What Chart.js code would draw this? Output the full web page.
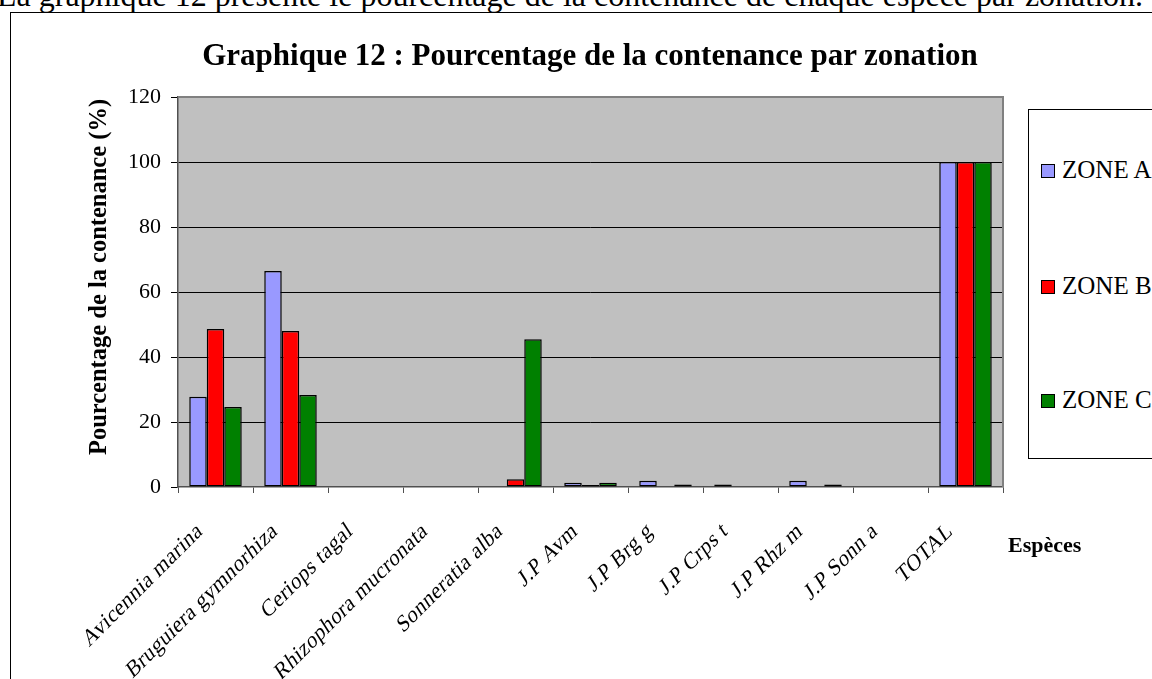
<!DOCTYPE html>
<html>
<head>
<meta charset="utf-8">
<script src="https://cdn.jsdelivr.net/npm/chart.js@4.4.1/dist/chart.umd.min.js"></script>
<style>
  html, body { margin:0; padding:0; background:#fff; }
  body { width:1152px; height:679px; overflow:hidden; position:relative; font-family:"Liberation Serif","Times New Roman",serif; color:#000; }
  #intro { position:absolute; left:-3px; top:-21px; font-size:32px; line-height:1; white-space:nowrap; }
  #frame { position:absolute; left:10px; top:12px; width:1200px; height:700px; border:1.5px solid #000; box-sizing:border-box; }
  #c { position:absolute; left:0; top:0; }
  #title { position:absolute; left:0; width:1180px; top:39px; text-align:center; font-weight:bold; font-size:31px; line-height:1; white-space:nowrap; }
  #ytitle { position:absolute; left:-102px; width:400px; top:265px; text-align:center; font-weight:bold; font-size:24.5px; line-height:24px; white-space:nowrap; transform:rotate(-90deg); transform-origin:200px 12px; }
  #xtitle { position:absolute; left:1008px; top:534px; font-weight:bold; font-size:22px; line-height:1; white-space:nowrap; }
  #legend { position:absolute; left:1028px; top:109px; width:200px; height:350px; border:1px solid #000; box-sizing:border-box; background:#fff; }
  .li { position:absolute; left:12px; white-space:nowrap; font-size:25px; line-height:1; }
  .sw { display:inline-block; width:12px; height:12px; border:1.5px solid #000; vertical-align:baseline; margin-right:7px; }
</style>
</head>
<body>
<div id="intro"></div>
<div id="frame"></div>
<canvas id="c" width="1152" height="679"></canvas>
<div id="title"></div>
<div id="ytitle"></div>
<div id="xtitle"></div>
<div id="legend"></div>
<script>
const introText = "La graphique 12 présente le pourcentage de la contenance de chaque espèce par zonation.";
const chartTitle = "Graphique 12 : Pourcentage de la contenance par zonation";
const yAxisTitle = "Pourcentage de la contenance (%)";
const xAxisTitle = "Espèces";
const categories = ["Avicennia marina", "Bruguiera gymnorhiza", "Ceriops tagal", "Rhizophora mucronata", "Sonneratia alba", "J.P Avm", "J.P Brg g", "J.P Crps t", "J.P Rhz m", "J.P Sonn a", "TOTAL"];
const seriesNames = ["ZONE A", "ZONE B", "ZONE C"];
const zoneA = [27.8, 66.5, 0, 0, 0, 1.3, 1.9, 0.8, 1.9, 0, 100];
const zoneB = [48.6, 48.0, 0, 0, 2.4, 0.6, 0, 0, 0, 0, 100];
const zoneC = [24.6, 28.3, 0, 0, 45.5, 1.3, 0.8, 0, 0.8, 0, 100];
const seriesColors = ["#9999FF", "#FF0000", "#008000"];
const yTicks = [0, 20, 40, 60, 80, 100, 120];

document.getElementById('intro').textContent = introText;
document.getElementById('title').textContent = chartTitle;
document.getElementById('ytitle').textContent = yAxisTitle;
document.getElementById('xtitle').textContent = xAxisTitle;

const legendTops = [156, 272, 386];
const legend = document.getElementById('legend');
seriesNames.forEach((n, i) => {
  const d = document.createElement('div');
  d.className = 'li';
  d.style.top = (legendTops[i] - 109) + 'px';
  const s = document.createElement('span');
  s.className = 'sw';
  s.style.background = seriesColors[i];
  d.appendChild(s);
  d.appendChild(document.createTextNode(n));
  legend.appendChild(d);
});

const series = [zoneA, zoneB, zoneC];
const bgPlugin = {
  id: 'bg',
  beforeDraw(chart) {
    const a = chart.chartArea, ctx = chart.ctx;
    ctx.save();
    ctx.fillStyle = '#C0C0C0';
    ctx.fillRect(a.left, a.top, a.right - a.left, a.bottom - a.top);
    ctx.restore();
  },
  afterDraw(chart) {
    const a = chart.chartArea, ctx = chart.ctx;
    ctx.save();
    ctx.strokeStyle = '#808080';
    ctx.lineWidth = 2;
    ctx.beginPath();
    ctx.moveTo(a.left, a.top);
    ctx.lineTo(a.right, a.top);
    ctx.lineTo(a.right, a.bottom);
    ctx.stroke();
    // rotated category labels (regular face slanted to imitate italic)
    const xs = chart.scales.x;
    ctx.fillStyle = '#000';
    ctx.font = '22px "Liberation Serif"';
    ctx.textAlign = 'right';
    ctx.textBaseline = 'alphabetic';
    try { ctx.letterSpacing = '0.4px'; } catch (e) {}
    chart.data.labels.forEach((lab, i) => {
      const x = xs.getPixelForValue(i);
      ctx.save();
      ctx.translate(x - 12, a.bottom + 46);
      ctx.rotate(-Math.PI / 4);
      ctx.transform(1, 0, -0.22, 1, 0, 0);
      ctx.fillText(lab, 0, 0);
      ctx.restore();
    });
    ctx.restore();
  }
};

new Chart(document.getElementById('c'), {
  type: 'bar',
  data: {
    labels: categories,
    datasets: series.map((d, i) => ({
      label: seriesNames[i],
      data: d,
      backgroundColor: seriesColors[i],
      borderColor: '#000',
      borderWidth: 1.5,
      borderSkipped: false,
      categoryPercentage: 0.7,
      barPercentage: 1.0
    }))
  },
  options: {
    responsive: false,
    animation: false,
    devicePixelRatio: 1,
    layout: { padding: { left: 0, top: 97, right: 149, bottom: 0 } },
    plugins: { legend: { display: false }, title: { display: false }, tooltip: { enabled: false } },
    scales: {
      x: {
        ticks: { display: false },
        grid: { display: true, drawOnChartArea: false, offset: true, tickLength: 6, color: '#505050', lineWidth: 1 },
        border: { display: true, color: '#505050', width: 1.5 },
        afterFit(s) { s.height = 679 - 487; }
      },
      y: {
        min: 0, max: 120,
        afterBuildTicks(s) { s.ticks = yTicks.map(v => ({ value: v })); },
        ticks: { font: { family: 'Liberation Serif', size: 22 }, color: '#000', padding: 10 },
        grid: {
          tickLength: 7,
          tickColor: '#000',
          color: (c) => (c.tick && (c.tick.value === 120 || c.tick.value === 0)) ? 'rgba(0,0,0,0)' : '#000',
          lineWidth: 1
        },
        border: { display: true, color: '#505050', width: 1.5 },
        afterFit(s) { s.width = 178; }
      }
    }
  },
  plugins: [bgPlugin]
});
</script>
</body>
</html>
